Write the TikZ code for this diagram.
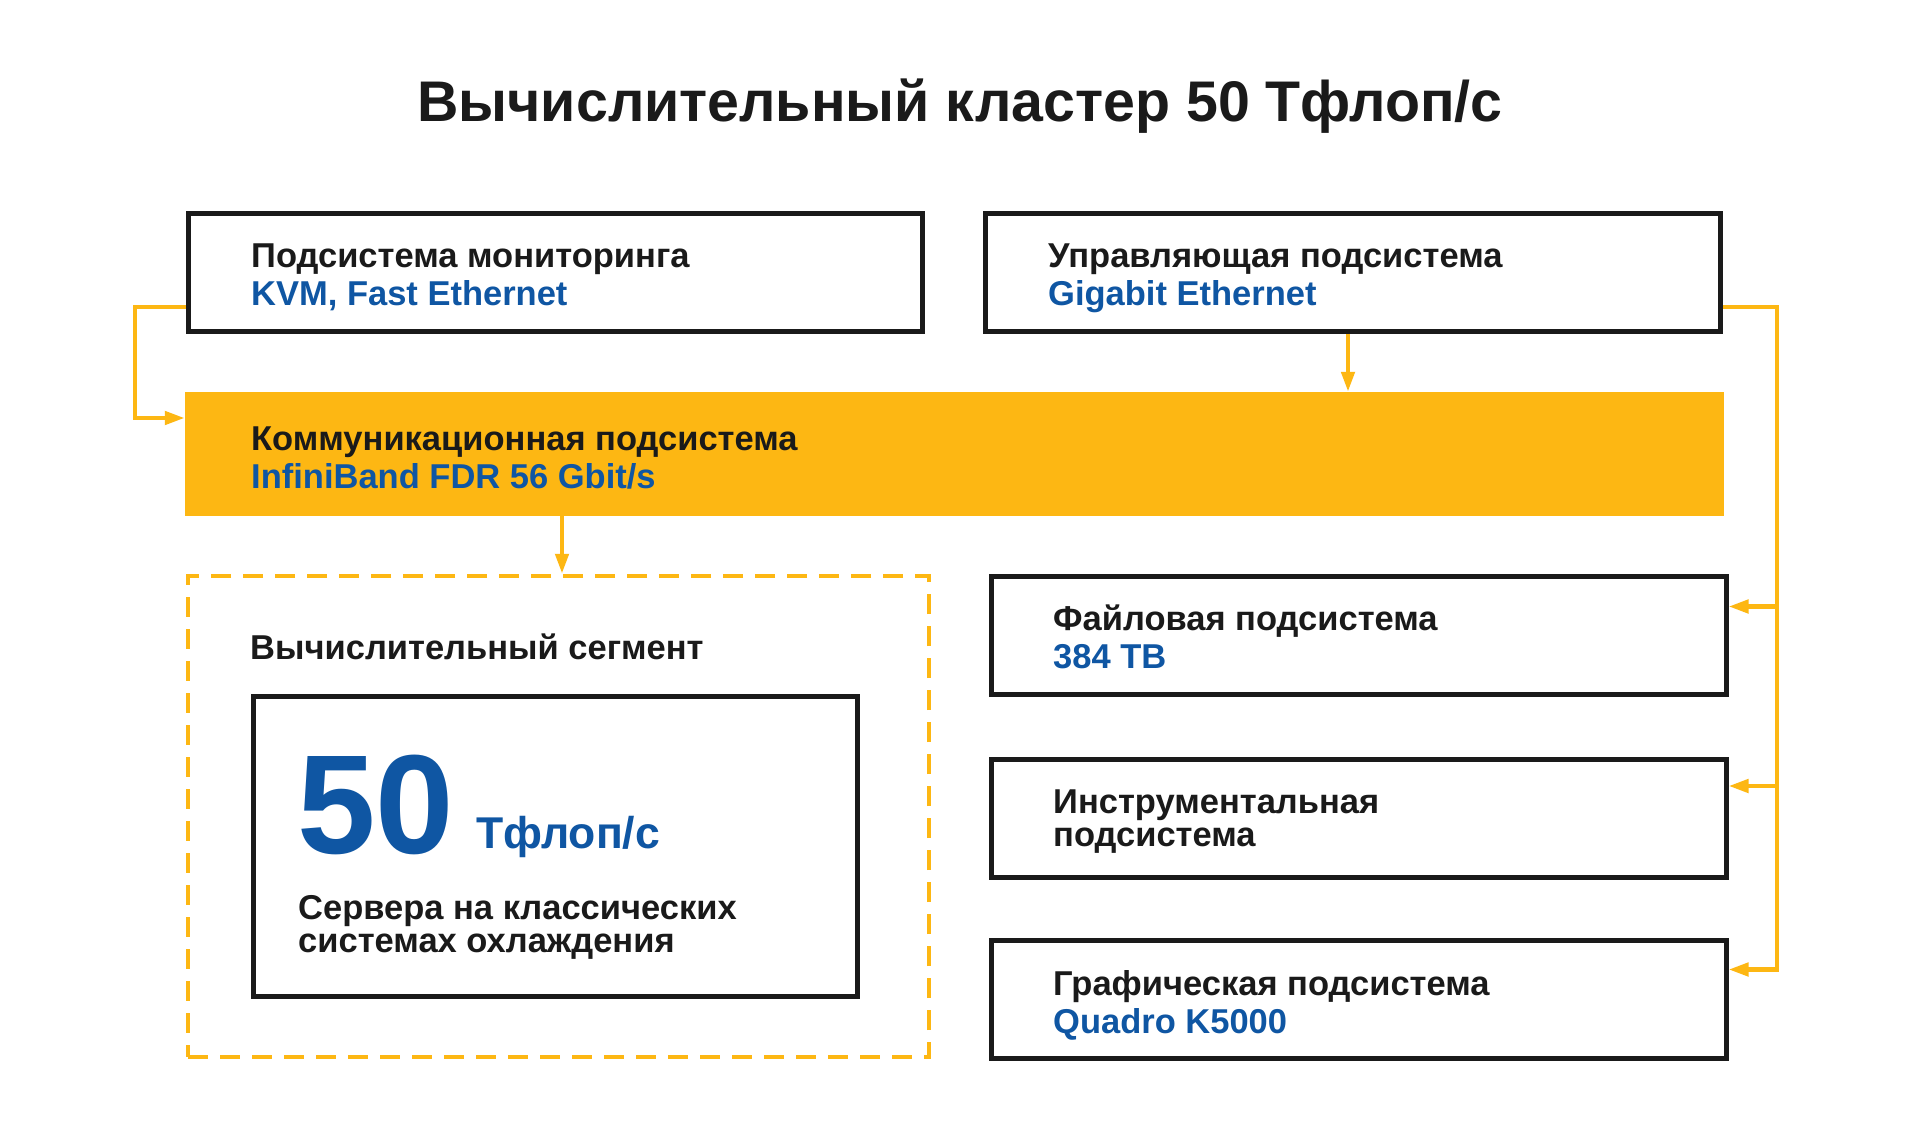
\documentclass[tikz,border=0pt]{standalone}
\usepackage{fontspec}
\setmainfont{Liberation Sans}
\usetikzlibrary{arrows.meta,calc}
\definecolor{ylw}{HTML}{FDB713}
\definecolor{blu}{HTML}{0F56A3}
\definecolor{ink}{HTML}{1A1A1A}
\begin{document}
\begin{tikzpicture}[x=1pt,y=-1pt,
  frame/.style={draw=ink,line width=5pt,fill=white,inner sep=0pt},
  lbl/.style={anchor=base west,inner sep=0pt,font=\fontsize{34.5}{38}\selectfont\bfseries,text=ink},
  sub/.style={lbl,text=blu},
  conn/.style={draw=ylw,line width=4.5pt,-{Triangle[length=20pt,width=13pt]}}]
\useasboundingbox[fill=white] (0,0) rectangle (1920,1131);
% title
\node[anchor=base,inner sep=0pt,font=\fontsize{57.3}{66}\selectfont\bfseries,text=ink] (title) at (960,122) {Вычислительный кластер 50 Тфлоп/с};
% boxes
\node[frame,minimum width=734pt,minimum height=118pt] (mon) at (555.5,272.5) {};
\node[frame,minimum width=735pt,minimum height=118pt] (ctl) at (1353,272.5) {};
\node[fill=ylw,inner sep=0pt,minimum width=1539pt,minimum height=124pt] (band) at (954.5,454) {};
\node[draw=ylw,line width=4.5pt,dash pattern=on 20pt off 12pt,inner sep=0pt,minimum width=741pt,minimum height=481pt] (seg) at (558.5,816.5) {};
\node[frame,minimum width=604pt,minimum height=300pt] (srv) at (555,846) {};
\node[frame,minimum width=735pt,minimum height=118pt] (file) at (1358.5,635.5) {};
\node[frame,minimum width=735pt,minimum height=118pt] (inst) at (1358.5,818) {};
\node[frame,minimum width=735pt,minimum height=118pt] (gfx) at (1358.5,999.5) {};
% texts
\node[lbl] (mont) at (251,268) {Подсистема мониторинга};
\node[sub] (mons) at (251,306) {KVM, Fast Ethernet};
\node[lbl] (ctlt) at (1048,268) {Управляющая подсистема};
\node[sub] (ctls) at (1048,306) {Gigabit Ethernet};
\node[lbl] (bandt) at (251,450) {Коммуникационная подсистема};
\node[sub] (bands) at (251,488) {InfiniBand FDR 56 Gbit/s};
\node[lbl] (segt) at (250,659) {Вычислительный сегмент};
\node[anchor=base west,inner sep=0pt,font=\fontsize{141}{144}\selectfont\bfseries,text=blu] (big) at (297,853) {50};
\node[anchor=base west,inner sep=0pt,font=\fontsize{44.5}{50}\selectfont\bfseries,text=blu] (unit) at (476,848) {Тфлоп/с};
\node[lbl] (srv1) at (298,919) {Сервера на классических};
\node[lbl] (srv2) at (298,952) {системах охлаждения};
\node[lbl] (filet) at (1053,630) {Файловая подсистема};
\node[sub] (files) at (1053,668) {384 TB};
\node[lbl] (inst1) at (1053,813) {Инструментальная};
\node[lbl] (inst2) at (1053,846) {подсистема};
\node[lbl] (gfxt) at (1053,995) {Графическая подсистема};
\node[sub] (gfxs) at (1053,1033) {Quadro K5000};
% connectors
\coordinate (bus) at (1777,307);
\coordinate (fileport) at ([yshift=29pt]file.east);
\coordinate (instport) at ([yshift=32pt]inst.east);
\coordinate (gfxport) at ([yshift=30pt]gfx.east);
\draw[conn] ([yshift=-34.5pt]mon.west) -- ++(-51,0) |- ([yshift=36pt]band.west);
\draw[conn] ([xshift=-5pt]ctl.south) -- ([xshift=-5pt]ctl.south |- band.north);
\draw[conn] ([xshift=3.5pt]seg.north |- band.south) -- ([xshift=3.5pt]seg.north);
\draw[conn] ([yshift=-34.5pt]ctl.east) -- (bus) |- (gfxport);
\draw[conn] (bus |- fileport) -- (fileport);
\draw[conn] (bus |- instport) -- (instport);
\end{tikzpicture}
\end{document}
